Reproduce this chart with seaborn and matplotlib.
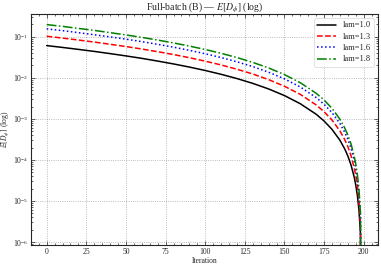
import seaborn as sns
import matplotlib
matplotlib.use("Agg")
import matplotlib.pyplot as plt
import matplotlib.ticker as mticker
import pandas as pd

# values (iteration -> E[D_phi])
iters = [0, 10, 20, 30, 40, 50, 60, 70, 80, 90, 100, 110, 120, 130, 140, 150,
         160, 170, 175, 180, 185, 188, 190, 192, 194, 195, 196, 197, 198, 199]

d_lam10 = [0.0610, 0.0550, 0.0493, 0.0440, 0.0389, 0.0342, 0.0298, 0.0256, 0.0218, 0.0183,
           0.0151, 0.0122, 0.00961, 0.00733, 0.00536, 0.00370, 0.00234, 0.00130, 0.000888, 0.000556,
           0.000302, 0.000187, 0.000125, 7.55e-5, 3.85e-5, 2.46e-5, 1.38e-5, 6.16e-6, 1.54e-6, 0.0]
d_lam13 = [0.103, 0.0929, 0.0833, 0.0743, 0.0657, 0.0578, 0.0503, 0.0433, 0.0369, 0.0309,
           0.0255, 0.0206, 0.0162, 0.0124, 0.00905, 0.00624, 0.00396, 0.00219, 0.00150, 0.000939,
           0.000510, 0.000315, 0.000211, 0.000127, 6.50e-5, 4.16e-5, 2.34e-5, 1.04e-5, 2.60e-6, 0.0]
d_lam16 = [0.156, 0.141, 0.126, 0.112, 0.0995, 0.0875, 0.0761, 0.0655, 0.0558, 0.0468,
           0.0386, 0.0312, 0.0246, 0.0188, 0.0137, 0.00945, 0.00599, 0.00331, 0.00227, 0.00142,
           0.000772, 0.000477, 0.000319, 0.000193, 9.84e-5, 6.30e-5, 3.54e-5, 1.58e-5, 3.94e-6, 0.0]
d_lam18 = [0.198, 0.179, 0.160, 0.143, 0.126, 0.111, 0.0966, 0.0832, 0.0709, 0.0594,
           0.0490, 0.0396, 0.0312, 0.0238, 0.0174, 0.0120, 0.00760, 0.00421, 0.00288, 0.00181,
           0.000980, 0.000606, 0.000405, 0.000245, 0.000125, 8.00e-5, 4.49e-5, 2.00e-5, 5.00e-6, 0.0]

labels = ["lam=1.0", "lam=1.3", "lam=1.6", "lam=1.8"]
series = [d_lam10, d_lam13, d_lam16, d_lam18]
colors = ["black", "red", "blue", "green"]
styles = ["-", "--", ":", "-."]

# 1 | style ala "science"
sns.set_style("ticks")
plt.rcParams["font.family"] = ["Liberation Serif", "DejaVu Serif"]
plt.rcParams["mathtext.fontset"] = "stix"
plt.rcParams["xtick.direction"] = "in"
plt.rcParams["ytick.direction"] = "in"
plt.rcParams["xtick.top"] = True
plt.rcParams["ytick.right"] = True

fig, ax = plt.subplots(figsize=(3.81, 2.68), dpi=100)
fig.subplots_adjust(left=0.081, right=0.992, top=0.948, bottom=0.086)

for vals, lab, c, ls in zip(series, labels, colors, styles):
    df = pd.DataFrame({"iter": iters, "val": vals})
    sns.lineplot(data=df, x="iter", y="val", ax=ax, color=c, linestyle=ls,
                 linewidth=1.1, label=lab)

# 2 | axes
ax.set_yscale("log")
ax.set_ylim(8.5e-7, 0.36)
ax.set_xlim(-10, 209)
ax.xaxis.set_major_locator(mticker.MultipleLocator(25))
ax.xaxis.set_minor_locator(mticker.MultipleLocator(5))
ax.yaxis.set_minor_locator(mticker.LogLocator(base=10, subs=range(2, 10), numticks=20))
ax.yaxis.set_minor_formatter(mticker.NullFormatter())
ax.tick_params(which="both", labelsize=5.5, width=0.5, pad=2)
ax.tick_params(which="major", length=3)
ax.tick_params(which="minor", length=1.5)
for s in ax.spines.values():
    s.set_linewidth(0.8)
ax.grid(True, which="major", linestyle=":", color="gray", linewidth=0.6, alpha=0.7)

ax.set_title(r"Full-batch (B) — $E[D_\phi]$ (log)", fontsize=7, pad=3)
ax.set_xlabel("Iteration", fontsize=5.5, labelpad=1)
ax.set_ylabel(r"$\mathbb{E}[D_\phi]$ (log)", fontsize=5.5, labelpad=1)

leg = ax.legend(loc="upper right", fontsize=6, frameon=True, handlelength=2.2,
                borderpad=0.4, labelspacing=0.4)
leg.get_frame().set_linewidth(0.5)

plt.savefig("out.png", dpi=100)
plt.close()
